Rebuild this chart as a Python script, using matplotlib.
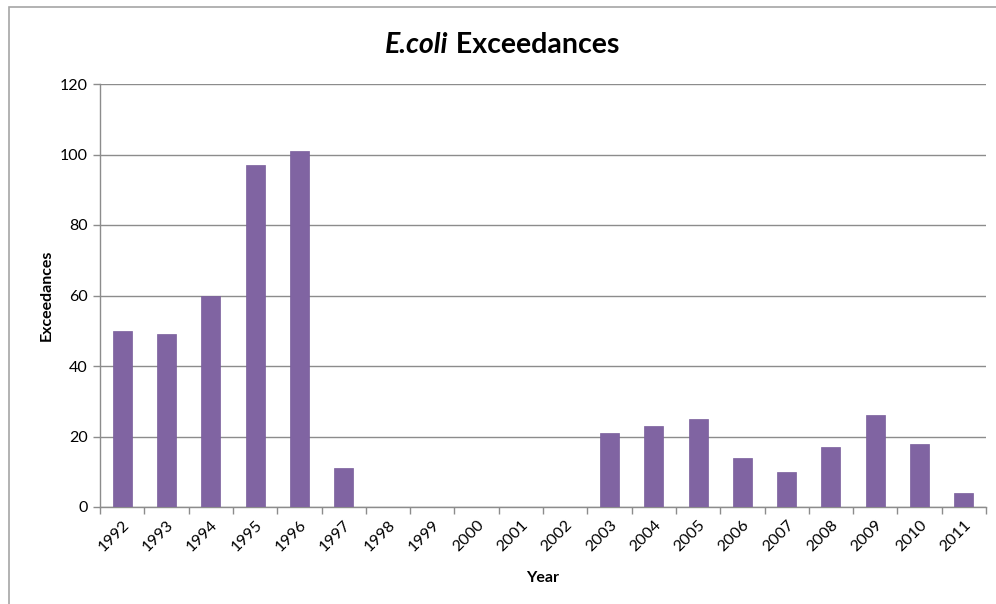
import matplotlib
matplotlib.use("Agg")
import matplotlib.pyplot as plt
from matplotlib.patches import Rectangle

years = ["1992", "1993", "1994", "1995", "1996", "1997", "1998", "1999", "2000", "2001",
         "2002", "2003", "2004", "2005", "2006", "2007", "2008", "2009", "2010", "2011"]
exceedances = [50, 49, 60, 97, 101, 11, 0, 0, 0, 0,
               0, 21, 23, 25, 14, 10, 17, 26, 18, 4]
y_ticks = [0, 20, 40, 60, 80, 100, 120]

plt.rcParams['font.family'] = ['Lato', 'DejaVu Sans']

fig = plt.figure(figsize=(9.96, 6.04), dpi=100)
W, H = 996, 604

# outer chart frame
fig.patches.append(Rectangle((9 / W, -0.05), 1.2, 1 - 7 / H + 0.05, transform=fig.transFigure,
                             fill=False, edgecolor="#a6a6a6", linewidth=1.2))

ax = fig.add_axes([100 / W, 1 - 507 / H, (986 - 100) / W, (507 - 84) / H])

x = list(range(len(years)))
ax.bar(x, exceedances, width=0.43, color="#8064A2", zorder=3,
       edgecolor="#7a5e9c", linewidth=0.5)

ax.set_xlim(-0.5, len(years) - 0.5)
ax.set_ylim(0, 120)
ax.set_yticks(y_ticks)
ax.set_yticklabels([str(v) for v in y_ticks], fontsize=11.5)
ax.yaxis.grid(True, color="#8c8c8c", linewidth=1.0, zorder=0)
ax.set_axisbelow(True)

# category labels at bar centres, tick marks at category boundaries
ax.set_xticks(x)
ax.set_xticklabels(years, rotation=45, ha="right", rotation_mode="anchor", fontsize=11.5)
ax.tick_params(axis="x", length=0, pad=8)
ax.set_xticks([i - 0.5 for i in range(len(years) + 1)], minor=True)
ax.tick_params(axis="x", which="minor", length=5, color="#8c8c8c", width=1)
ax.tick_params(axis="y", length=5, color="#8c8c8c", width=1, pad=4)

for s in ["top", "right"]:
    ax.spines[s].set_visible(False)
for s in ["left", "bottom"]:
    ax.spines[s].set_color("#8c8c8c")
    ax.spines[s].set_linewidth(1.0)

ax.set_xlabel("Year", fontsize=11.5, fontweight="bold", labelpad=12)
ax.set_ylabel("Exceedances", fontsize=11.5, fontweight="bold", labelpad=4)

# title: italic species name followed by bold word, centred as a pair
fig.canvas.draw()
renderer = fig.canvas.get_renderer()
ty = 1 - 45 / H
t1 = fig.text(0, ty, "E.coli", fontsize=20.5, fontweight="bold", fontstyle="italic",
              ha="left", va="center")
t2 = fig.text(0, ty, " Exceedances", fontsize=20.5, fontweight="bold",
              ha="left", va="center")
w1 = t1.get_window_extent(renderer).width / W
w2 = t2.get_window_extent(renderer).width / W
x0 = 502 / W - (w1 + w2) / 2
t1.set_x(x0)
t2.set_x(x0 + w1)

fig.savefig("out.png", dpi=100)
